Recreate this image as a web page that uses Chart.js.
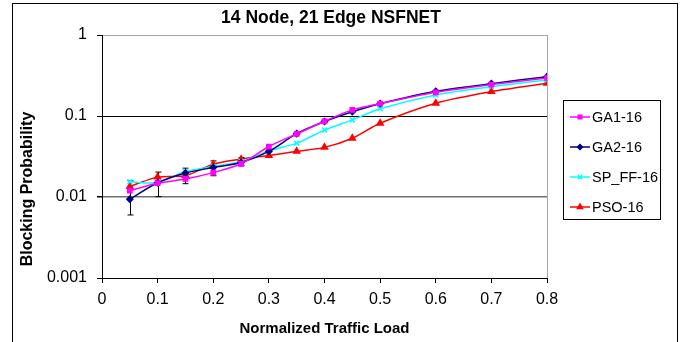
<!DOCTYPE html>
<html>
<head>
<meta charset="utf-8">
<script src="https://cdn.jsdelivr.net/npm/chart.js@4.4.1/dist/chart.umd.min.js"></script>
<style>
  html, body { margin: 0; padding: 0; background: #fff; }
  #wrap { width: 684px; height: 342px; }
</style>
</head>
<body>
<div id="wrap"><canvas id="chart" width="684" height="342"></canvas></div>
<script>
// values
const loads = [0.05, 0.1, 0.15, 0.2, 0.25, 0.3, 0.35, 0.4, 0.45, 0.5, 0.6, 0.7, 0.8];
const ga1  = [0.0120, 0.0148, 0.0167, 0.0200, 0.0257, 0.0420, 0.0600, 0.0860, 0.119, 0.142, 0.196, 0.244, 0.295];
const ga2  = [0.0094, 0.0150, 0.0198, 0.0231, 0.0266, 0.0366, 0.0605, 0.0855, 0.113, 0.142, 0.202, 0.251, 0.306];
const spff = [0.0154, 0.0151, 0.0206, 0.0238, 0.0274, 0.0371, 0.0462, 0.0670, 0.0895, 0.123, 0.182, 0.230, 0.279];
const pso  = [0.0135, 0.0176, 0.0184, 0.0254, 0.0293, 0.0326, 0.0366, 0.0410, 0.0532, 0.0815, 0.144, 0.200, 0.254];

const errLoads = [0.05, 0.1, 0.15, 0.2, 0.25];
const errLow   = [0.0060, 0.0101, 0.0146, 0.0183, 0.0243];
const errHigh  = [0.0158, 0.0203, 0.0227, 0.0279, 0.0307];

const xTicks = [0, 0.1, 0.2, 0.3, 0.4, 0.5, 0.6, 0.7, 0.8];
const yTicks = [0.001, 0.01, 0.1, 1];

const chartTitle = '14 Node, 21 Edge NSFNET';

const FONT = '"Liberation Sans", Arial, sans-serif';
const GRAY = '#a6a6a6';

function series(label, values, color, style, radius) {
    return {
        label: label,
        data: loads.map((x, i) => ({ x: x, y: values[i] })),
        borderColor: color,
        backgroundColor: color,
        borderWidth: 1.5,
        pointStyle: style,
        pointRadius: radius,
        pointBorderWidth: 1.5,
        tension: 0.3,
        fill: false
    };
}

const framePlugin = {
    id: 'frame',
    beforeDatasetsDraw(chart) {
        // error bars
        const ctx = chart.ctx;
        const xs = chart.scales.x, ys = chart.scales.y;
        ctx.save();
        ctx.strokeStyle = '#000';
        ctx.lineWidth = 1;
        for (let i = 0; i < errLoads.length; i++) {
            const px = Math.round(xs.getPixelForValue(errLoads[i])) + 0.5;
            const top = ys.getPixelForValue(errHigh[i]);
            const bot = ys.getPixelForValue(errLow[i]);
            ctx.beginPath();
            ctx.moveTo(px, top); ctx.lineTo(px, bot);
            ctx.moveTo(px - 3, top); ctx.lineTo(px + 3, top);
            ctx.moveTo(px - 3, bot); ctx.lineTo(px + 3, bot);
            ctx.stroke();
        }
        ctx.restore();
    },
    afterDraw(chart) {
        const ctx = chart.ctx;
        ctx.save();
        // outer frame
        ctx.strokeStyle = '#000';
        ctx.lineWidth = 1;
        ctx.strokeRect(12.5, 3.5, 665, 400);

        // chart title
        ctx.fillStyle = '#000';
        ctx.font = 'bold 17.5px ' + FONT;
        ctx.textAlign = 'center';
        ctx.textBaseline = 'middle';
        ctx.fillText(chartTitle, 331, 18);

        // y axis title
        ctx.save();
        ctx.translate(28, 189);
        ctx.rotate(-Math.PI / 2);
        ctx.font = 'bold 16px ' + FONT;
        ctx.fillText('Blocking Probability', 0, 0);
        ctx.restore();

        // legend box
        ctx.strokeStyle = '#000';
        ctx.strokeRect(563.5, 100.5, 97, 119);
        ctx.font = '14.5px ' + FONT;
        ctx.textBaseline = 'middle';
        ctx.textAlign = 'left';
        chart.data.datasets.forEach((ds, i) => {
            const y = 117 + i * 30;
            ctx.strokeStyle = ds.borderColor;
            ctx.fillStyle = ds.backgroundColor;
            ctx.lineWidth = 1.5;
            ctx.beginPath();
            ctx.moveTo(570, y); ctx.lineTo(590, y);
            ctx.stroke();
            Chart.helpers.drawPoint(ctx, {
                pointStyle: ds.pointStyle, radius: ds.pointRadius - 0.5,
                borderWidth: 1.5, rotation: 0
            }, 580, y);
            ctx.fillStyle = '#000';
            ctx.fillText(ds.label, 592, y + 1);
        });
        ctx.restore();
    }
};

new Chart('chart', {
    type: 'line',
    data: {
        datasets: [
            series('GA1-16', ga1, '#ff00ff', 'rect', 3),
            series('GA2-16', ga2, '#000080', 'rectRot', 3),
            series('SP_FF-16', spff, '#00ffff', 'crossRot', 3.5),
            series('PSO-16', pso, '#ff0000', 'triangle', 3.5)
        ]
    },
    options: {
        responsive: false,
        animation: false,
        layout: { padding: { left: 14, right: 137, top: 35, bottom: 0 } },
        plugins: {
            legend: { display: false },
            tooltip: { enabled: false },
            title: { display: false }
        },
        scales: {
            x: {
                type: 'linear',
                min: 0, max: 0.8,
                afterBuildTicks: s => { s.ticks = xTicks.map(v => ({ value: v })); },
                afterFit: s => { s.height = 64; },
                border: { color: '#000', width: 1 },
                grid: {
                    color: c => (c.tick && Math.abs(c.tick.value - 0.8) < 1e-9) ? GRAY : 'rgba(0,0,0,0)',
                    tickColor: '#000',
                    tickLength: 5
                },
                ticks: {
                    color: '#000',
                    padding: 7,
                    maxRotation: 0,
                    font: { family: FONT, size: 16 },
                    callback: v => String(Math.round(v * 10) / 10)
                },
                title: {
                    display: true,
                    text: 'Normalized Traffic Load',
                    color: '#000',
                    font: { family: FONT, size: 15, weight: 'bold' },
                    padding: { top: 0, bottom: 4 }
                }
            },
            y: {
                type: 'logarithmic',
                min: 0.001, max: 1,
                afterBuildTicks: s => { s.ticks = yTicks.map(v => ({ value: v })); },
                afterFit: s => { s.width = 102 - 14; },
                border: { color: '#000', width: 1 },
                grid: {
                    color: c => {
                        if (!c.tick) return '#000';
                        if (c.tick.value === 1) return GRAY;
                        if (c.tick.value === 0.01) return '#707070';
                        return '#000';
                    },
                    lineWidth: c => (c.tick && c.tick.value === 0.01) ? 1.5 : 1,
                    tickColor: '#000',
                    tickLength: 5
                },
                ticks: {
                    color: '#000',
                    padding: 10,
                    font: { family: FONT, size: 16 },
                    callback: v => String(v)
                }
            }
        }
    },
    plugins: [framePlugin]
});
</script>
</body>
</html>
